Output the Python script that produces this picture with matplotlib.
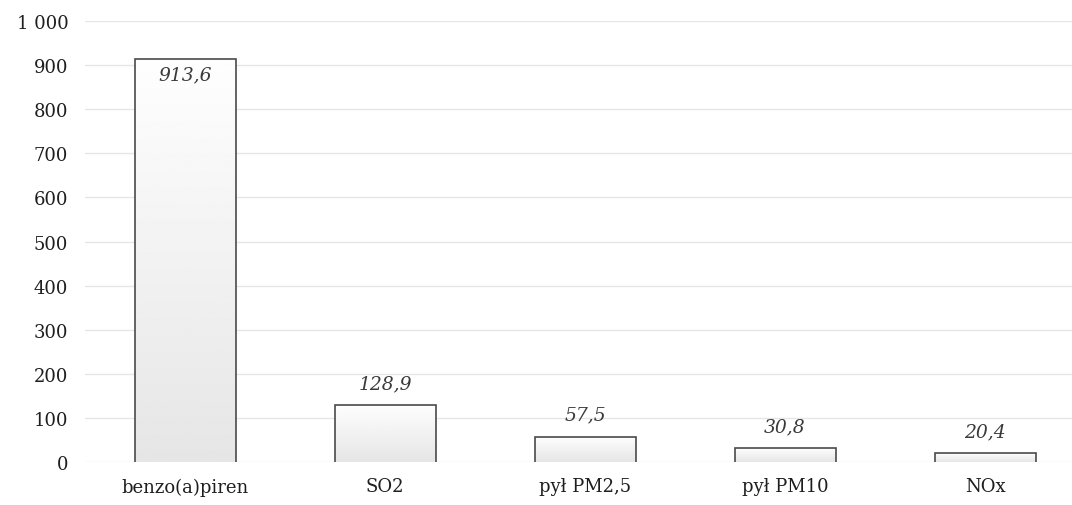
import numpy as np
import matplotlib.pyplot as plt
from matplotlib.ticker import FuncFormatter

categories = ['benzo(a)piren', 'SO2', 'pył PM2,5', 'pył PM10', 'NOx']
values = [913.6, 128.9, 57.5, 30.8, 20.4]
labels = ['913,6', '128,9', '57,5', '30,8', '20,4']

plt.rcParams['font.family'] = ['DejaVu Serif']

fig = plt.figure(figsize=(10.72, 5.06), dpi=100)
# plot area runs a little past the right edge of the figure
ax = fig.add_axes([85 / 1072, 43 / 506, 1000 / 1072, 441 / 506])

x = np.arange(len(categories))
bars = ax.bar(x, values, width=0.505, facecolor='none', edgecolor='none', zorder=3)

# light vertical gradient inside every bar, outline on three sides only
grad = np.linspace(0.995, 0.9, 256).reshape(-1, 1)
for b in bars:
    x0, y0 = b.get_x(), b.get_y()
    w, h = b.get_width(), b.get_height()
    im = ax.imshow(grad, cmap='gray', vmin=0, vmax=1, aspect='auto',
                   extent=[x0, x0 + w, y0, y0 + h], origin='upper', zorder=2)
    im.set_clip_path(b)
    ax.plot([x0, x0, x0 + w, x0 + w], [y0, y0 + h, y0 + h, y0],
            color='#4a4a4a', linewidth=1.2, zorder=4, solid_joinstyle='miter')

for xi, v, t in zip(x, values, labels):
    if v > 500:
        ax.text(xi, v - 35, t, ha='center', va='center', fontsize=13.5,
                style='italic', color='#3a3a3a', zorder=5)
    else:
        ax.text(xi, v + 50, t, ha='center', va='center', fontsize=13.5,
                style='italic', color='#3a3a3a', zorder=5)

ax.set_xlim(-0.5, len(categories) - 0.5)
ax.set_ylim(0, 1000)
ax.set_yticks(range(0, 1001, 100))
ax.yaxis.set_major_formatter(FuncFormatter(lambda v, p: f'{int(v):,}'.replace(',', ' ')))
ax.set_xticks(x)
ax.set_xticklabels(categories)
ax.tick_params(axis='both', length=0, labelsize=13, colors='#1e1e1e')
ax.tick_params(axis='x', pad=11)
ax.tick_params(axis='y', pad=12)

ax.grid(axis='y', color='#e6e6e6', linewidth=1.0, zorder=0)
for s in ax.spines.values():
    s.set_visible(False)
ax.set_axisbelow(True)

fig.savefig('out.png', dpi=100)
